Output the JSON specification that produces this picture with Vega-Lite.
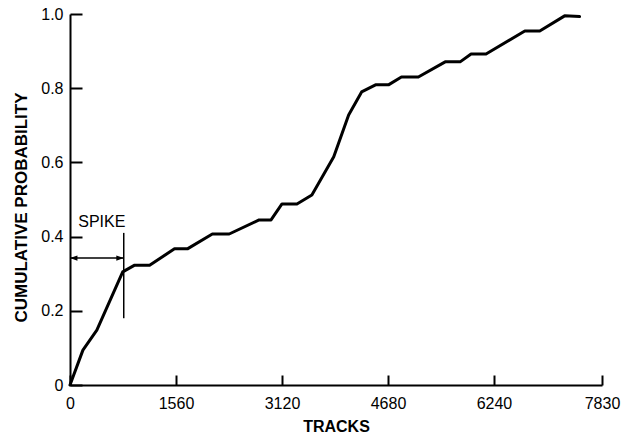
{
  "$schema": "https://vega.github.io/schema/vega-lite/v6.json",
  "autosize": "none",
  "width": 532,
  "height": 371,
  "padding": {"left": 70, "top": 14, "right": 30, "bottom": 50},
  "background": "white",
  "config": {
    "view": {"stroke": null},
    "font": "Liberation Sans",
    "axis": {
      "grid": false,
      "domainColor": "black",
      "domainWidth": 2,
      "tickColor": "black",
      "tickWidth": 2,
      "labelColor": "black",
      "labelFont": "Liberation Sans",
      "labelFontSize": 16,
      "titleColor": "black",
      "titleFont": "Liberation Sans",
      "titleFontWeight": "bold",
      "titleFontSize": 16
    }
  },
  "datasets": {
    "curve": [
      {"tracks": 0, "prob": 0},
      {"tracks": 190, "prob": 0.094},
      {"tracks": 395, "prob": 0.148},
      {"tracks": 776, "prob": 0.305},
      {"tracks": 952, "prob": 0.323},
      {"tracks": 1172, "prob": 0.323},
      {"tracks": 1538, "prob": 0.367},
      {"tracks": 1728, "prob": 0.367},
      {"tracks": 2095, "prob": 0.407},
      {"tracks": 2343, "prob": 0.407},
      {"tracks": 2783, "prob": 0.445},
      {"tracks": 2959, "prob": 0.445},
      {"tracks": 3120, "prob": 0.488},
      {"tracks": 3340, "prob": 0.488},
      {"tracks": 3560, "prob": 0.512},
      {"tracks": 3882, "prob": 0.615},
      {"tracks": 4101, "prob": 0.728},
      {"tracks": 4292, "prob": 0.79},
      {"tracks": 4497, "prob": 0.809},
      {"tracks": 4687, "prob": 0.809},
      {"tracks": 4878, "prob": 0.83},
      {"tracks": 5127, "prob": 0.83},
      {"tracks": 5522, "prob": 0.871},
      {"tracks": 5742, "prob": 0.871},
      {"tracks": 5903, "prob": 0.892},
      {"tracks": 6123, "prob": 0.892},
      {"tracks": 6694, "prob": 0.954},
      {"tracks": 6914, "prob": 0.954},
      {"tracks": 7280, "prob": 0.995},
      {"tracks": 7500, "prob": 0.993}
    ],
    "vrule": [{"tracks": 791, "prob": 0.18, "prob2": 0.41}],
    "hrule": [{"tracks": 0, "tracks2": 791, "prob": 0.342}],
    "heads": [
      {"tracks": 0, "prob": 0.342, "dir": "left"},
      {"tracks": 791, "prob": 0.342, "dir": "right"}
    ],
    "label": [{"tracks": 468, "prob": 0.439, "text": "SPIKE"}]
  },
  "layer": [
    {
      "data": {"name": "curve"},
      "mark": {"type": "line", "color": "black", "strokeWidth": 3, "strokeJoin": "round", "strokeCap": "round"},
      "encoding": {
        "x": {
          "field": "tracks", "type": "quantitative",
          "scale": {"domain": [0, 7830], "nice": false, "zero": false},
          "axis": {
            "title": "TRACKS",
            "values": [0, 1560, 3120, 4680, 6240, 7830],
            "format": "d",
            "tickSize": -10,
            "labelPadding": 20,
            "titlePadding": 7,
            "labelFlush": false
          }
        },
        "y": {
          "field": "prob", "type": "quantitative",
          "scale": {"domain": [0, 1], "nice": false},
          "axis": {
            "title": "CUMULATIVE PROBABILITY",
            "titleFontSize": 17,
            "titleY": 193,
            "values": [0, 0.2, 0.4, 0.6, 0.8, 1.0],
            "labelExpr": "datum.value == 0 ? '0' : format(datum.value, '.1f')",
            "tickSize": -12,
            "labelPadding": 19,
            "titlePadding": 10,
            "labelFlush": false
          }
        }
      }
    },
    {
      "data": {"name": "vrule"},
      "mark": {"type": "rule", "color": "black", "strokeWidth": 1.5},
      "encoding": {
        "x": {"field": "tracks", "type": "quantitative"},
        "y": {"field": "prob", "type": "quantitative"},
        "y2": {"field": "prob2"}
      }
    },
    {
      "data": {"name": "hrule"},
      "mark": {"type": "rule", "color": "black", "strokeWidth": 1.5},
      "encoding": {
        "x": {"field": "tracks", "type": "quantitative"},
        "x2": {"field": "tracks2"},
        "y": {"field": "prob", "type": "quantitative"}
      }
    },
    {
      "data": {"name": "heads"},
      "mark": {"type": "point", "filled": true, "color": "black", "opacity": 1, "size": 220},
      "encoding": {
        "x": {"field": "tracks", "type": "quantitative"},
        "y": {"field": "prob", "type": "quantitative"},
        "shape": {
          "field": "dir", "type": "nominal",
          "scale": {"domain": ["left", "right"], "range": ["M0,0L1,-0.35L1,0.35Z", "M0,0L-1,-0.35L-1,0.35Z"]},
          "legend": null
        }
      }
    },
    {
      "data": {"name": "label"},
      "mark": {"type": "text", "color": "black", "fontSize": 16, "font": "Liberation Sans", "baseline": "middle", "align": "center"},
      "encoding": {
        "x": {"field": "tracks", "type": "quantitative"},
        "y": {"field": "prob", "type": "quantitative"},
        "text": {"field": "text"}
      }
    }
  ]
}
